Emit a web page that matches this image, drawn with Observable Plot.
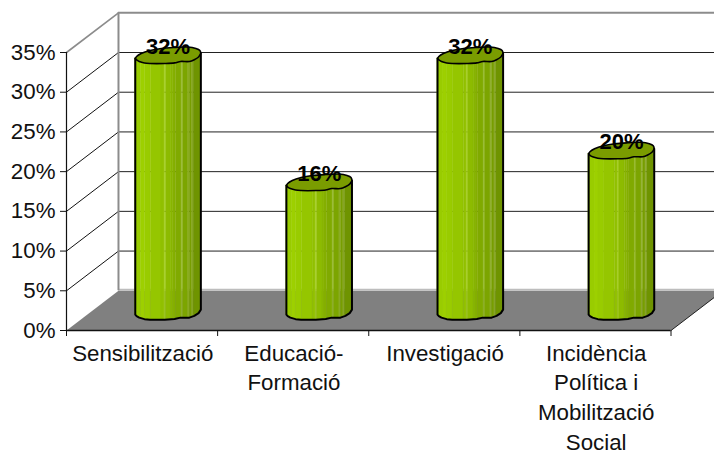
<!DOCTYPE html>
<html><head><meta charset="utf-8">
<script src="https://cdn.jsdelivr.net/npm/d3@7"></script>
<script src="https://cdn.jsdelivr.net/npm/@observablehq/plot@0.6"></script>
<style>html,body{margin:0;padding:0;background:#fff;overflow:hidden}
g[aria-label="category labels"]{letter-spacing:.65px}</style>
</head><body><div id="chart"></div>
<script>
const categories = ["Sensibilització", "Educació-\nFormació", "Investigació", "Incidència\nPolítica i\nMobilització\nSocial"];
const values = [32, 16, 32, 20];
const yTicks = [0, 5, 10, 15, 20, 25, 30, 35];
const xTicks = [0, 1, 2, 3, 4];
// 3D depth of the box, in axis units
const depthX = 0.344, depthY = 5;
const barHalf = 0.217;       // cylinder half width, category units
const pctPerPx = 35 / 278;   // y units per pixel, for the hand-read rim wobble
// rim outline: [position across the bar -1..1, px offset]
const rimLower = [[-1,2],[-0.96,3.5],[-0.88,5],[-0.72,6.5],[-0.55,7],[-0.1,7],[0.2,6.4],[0.38,5],[0.65,5],[0.8,3.2],[0.93,0.5],[1,-3]];
const rimUpper = [[-1,2],[-0.96,0],[-0.82,-3],[-0.55,-6],[-0.2,-8],[0.2,-9],[0.6,-9.5],[0.85,-8],[0.97,-6],[1,-3]];
const interp = (rim, u) => {
  for (let k = 1; k < rim.length; k++) if (u <= rim[k][0]) {
    const [a, p] = rim[k-1], [b, q] = rim[k];
    return p + (q - p) * (u - a) / (b - a);
  }
  return rim[rim.length-1][1];
};
const cx = i => i + 0.5 + depthX / 2;
const vBase = depthY / 2;
const baseDrop = 2; // px the base rim sits lower than the top rim
const stripeEdges = [-1,-0.82,-0.7,-0.52,-0.2,-0.1,-0.06,0.1,0.16,0.24,0.42,0.46,0.62,0.66,0.74,0.78,1];
const stripeFill = ["#99cc00","#9dd000","#99cc00","#95c600","#91c000","#a6d020","#8dbb00","#89b600","#85b000","#80aa00","#98bc30","#7ca500","#92b030","#779e00","#8fac30","#6f9400"];
const bodyPts = [], capLine = [], outline = [];
values.forEach((v, i) => {
  for (let s = 0; s < stripeEdges.length - 1; s++) {
    const a = stripeEdges[s], b = stripeEdges[s+1];
    const us = [a, ...rimLower.map(r => r[0]).filter(u => u > a && u < b), b];
    for (const u of us) bodyPts.push({
      z: i + "-" + s, fill: stripeFill[s], x: cx(i) + u * barHalf,
      y1: vBase - (interp(rimLower, u) + baseDrop) * pctPerPx,
      y2: vBase + v - interp(rimLower, u) * pctPerPx
    });
  }
  const top = rimUpper.map(([u, o]) => ({x: cx(i) + u * barHalf, y: vBase + v - o * pctPerPx}));
  const low = rimLower.map(([u, o]) => ({x: cx(i) + u * barHalf, y: vBase + v - o * pctPerPx}));
  const bot = rimLower.map(([u, o]) => ({x: cx(i) + u * barHalf, y: vBase - (o + baseDrop) * pctPerPx}));
  capLine.push({i, pts: [...top, ...low.slice().reverse()]});
  outline.push({i, pts: [top[0], ...bot, top[top.length-1]]});
});
const capPts = capLine.flatMap(c => c.pts.map(p => ({...p, i: c.i})));
const outPts = outline.flatMap(c => c.pts.map(p => ({...p, i: c.i})));
const floor = [[0,0],[depthX,depthY],[4+depthX,depthY],[4,0]].map(([x,y]) => ({x,y}));

const chart = Plot.plot({
  width: 714, height: 452,
  marginLeft: 66, marginRight: 43.5, marginTop: 52, marginBottom: 122,
  style: {fontFamily: "'Liberation Sans', Arial, sans-serif", fontSize: "22.3px", background: "#fff", color: "#111"},
  x: {type: "linear", domain: [0, 4], axis: null},
  y: {type: "linear", domain: [0, 35], axis: null},
  marks: [
    // floor
    Plot.line(floor, {x: "x", y: "y", fill: "#808080", stroke: "none"}),
    Plot.ruleY([depthY], {x1: depthX, x2: 4 + depthX, stroke: "#bdbdbd", strokeWidth: 2, dy: -1}),
    // side-wall and back-wall grid
    Plot.line(yTicks.slice(1).flatMap(t => [{t, x: 0, y: t}, {t, x: depthX, y: t + depthY}]), {x: "x", y: "y", z: "t", stroke: d => d.t === 35 ? "#8c8c8c" : "#111", strokeWidth: d => d.t === 35 ? 1.6 : 1}),
    Plot.ruleY(yTicks.slice(1, 7), {y: d => d + depthY, x1: depthX, x2: 4 + depthX, stroke: "#222", strokeWidth: 1}),
    Plot.ruleY([40], {x1: depthX, x2: 4 + depthX, stroke: "#8c8c8c", strokeWidth: 2}),
    Plot.ruleX([depthX], {y1: depthY, y2: 40, stroke: "#8c8c8c", strokeWidth: 2}),
    // floor front edge + axes
    Plot.ruleY([0], {x1: 0, x2: 4, stroke: "#111", strokeWidth: 1.5}),
    Plot.line([{x: 4, y: 0}, {x: 4 + depthX, y: depthY}], {x: "x", y: "y", stroke: "#222", strokeWidth: 1}),
    Plot.ruleX([0], {y1: 0, y2: 35, stroke: "#111", strokeWidth: 1.2}),
    Plot.axisY({ticks: yTicks, tickFormat: d => d + "%", tickSize: 6, tickPadding: 5, label: null, stroke: "#111", textStroke: "none"}),
    Plot.axisX({ticks: xTicks, tickFormat: () => "", tickSize: 6, label: null, stroke: "#111"}),
    // cylinders
    Plot.areaY(bodyPts, {x: "x", y1: "y1", y2: "y2", z: "z", fill: "fill", stroke: "fill", strokeWidth: 0.4}),
    Plot.line(capPts, {x: "x", y: "y", z: "i", fill: "#7a9c00", stroke: "#000", strokeWidth: 1.6, curve: "catmull-rom-closed"}),
    Plot.line(outPts, {x: "x", y: "y", z: "i", stroke: "#000", strokeWidth: 2, curve: "linear"}),
    // category labels
    Plot.text(categories, {ariaLabel: "category labels", x: (d, i) => i + 0.505, y: 0, text: d => d, lineAnchor: "top", dy: 9, lineHeight: 1.33, fill: "#111"}),
    // value labels
    Plot.text(values, {x: (d, i) => cx(i), y: d => d + vBase, text: d => d + "%", dy: -10, fontWeight: "bold", fontSize: 22, fill: "#000"})
  ]
});
document.getElementById("chart").appendChild(chart);
</script></body></html>
